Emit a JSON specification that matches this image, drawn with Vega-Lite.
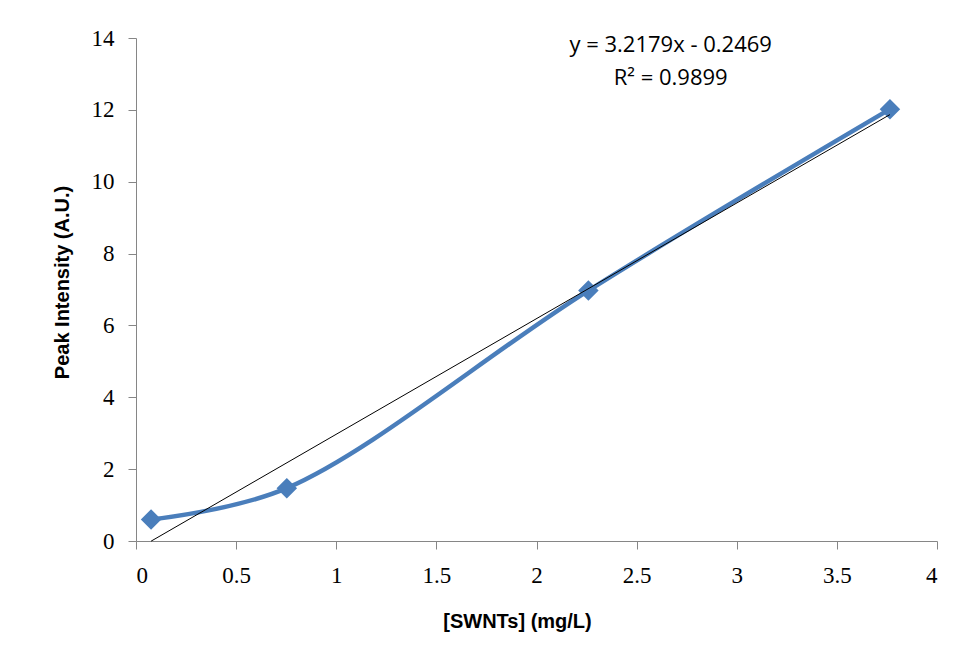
{
  "$schema": "https://vega.github.io/schema/vega-lite/v6.json",
  "width": 801,
  "height": 503,
  "autosize": {"type": "none"},
  "padding": {"left": 136, "top": 38, "right": 22, "bottom": 118},
  "background": "white",
  "config": {
    "view": {"stroke": null},
    "axis": {
      "grid": false,
      "domainColor": "#868686",
      "domainWidth": 1,
      "tickColor": "#868686",
      "tickSize": 8,
      "labelFont": "Liberation Serif",
      "labelFontSize": 23,
      "labelColor": "#000000",
      "titleFont": "Liberation Sans",
      "titleFontSize": 20,
      "titleFontWeight": "bold",
      "titleColor": "#000000"
    }
  },
  "datasets": {
    "measured": [
      {"conc": 0.0753, "intensity": 0.6},
      {"conc": 0.753, "intensity": 1.47},
      {"conc": 2.259, "intensity": 6.97},
      {"conc": 3.765, "intensity": 12.02}
    ],
    "fit": [
      {"conc": 0.0753, "intensity": -0.0046},
      {"conc": 3.765, "intensity": 11.8685}
    ],
    "notes": [
      {"conc": 2.67, "intensity": 13.8, "label": "y = 3.2179x - 0.2469"},
      {"conc": 2.67, "intensity": 12.89, "label": "R² = 0.9899"}
    ]
  },
  "encoding": {
    "x": {
      "field": "conc",
      "type": "quantitative",
      "scale": {"domain": [0, 4], "nice": false, "zero": false},
      "axis": {
        "title": "[SWNTs] (mg/L)",
        "values": [0, 0.5, 1, 1.5, 2, 2.5, 3, 3.5, 4],
        "format": "~g",
        "labelPadding": 15,
        "titlePadding": 24,
        "titleX": 381
      }
    },
    "y": {
      "field": "intensity",
      "type": "quantitative",
      "scale": {"domain": [0, 14], "nice": false},
      "axis": {
        "title": "Peak Intensity (A.U.)",
        "values": [0, 2, 4, 6, 8, 10, 12, 14],
        "labelPadding": 14,
        "titlePadding": 19,
        "titleY": 244
      }
    }
  },
  "layer": [
    {
      "data": {"name": "measured"},
      "mark": {
        "type": "line",
        "interpolate": "catmull-rom",
        "color": "#4A7EBB",
        "strokeWidth": 4.5,
        "point": {"shape": "diamond", "size": 420, "filled": true, "color": "#4A7EBB", "opacity": 1}
      }
    },
    {
      "data": {"name": "fit"},
      "mark": {"type": "line", "color": "#000000", "strokeWidth": 1, "clip": false}
    },
    {
      "data": {"name": "notes"},
      "mark": {
        "type": "text",
        "font": "Open Sans",
        "fontSize": 22,
        "color": "#000000",
        "align": "center",
        "baseline": "middle"
      },
      "encoding": {"text": {"field": "label"}}
    }
  ]
}
